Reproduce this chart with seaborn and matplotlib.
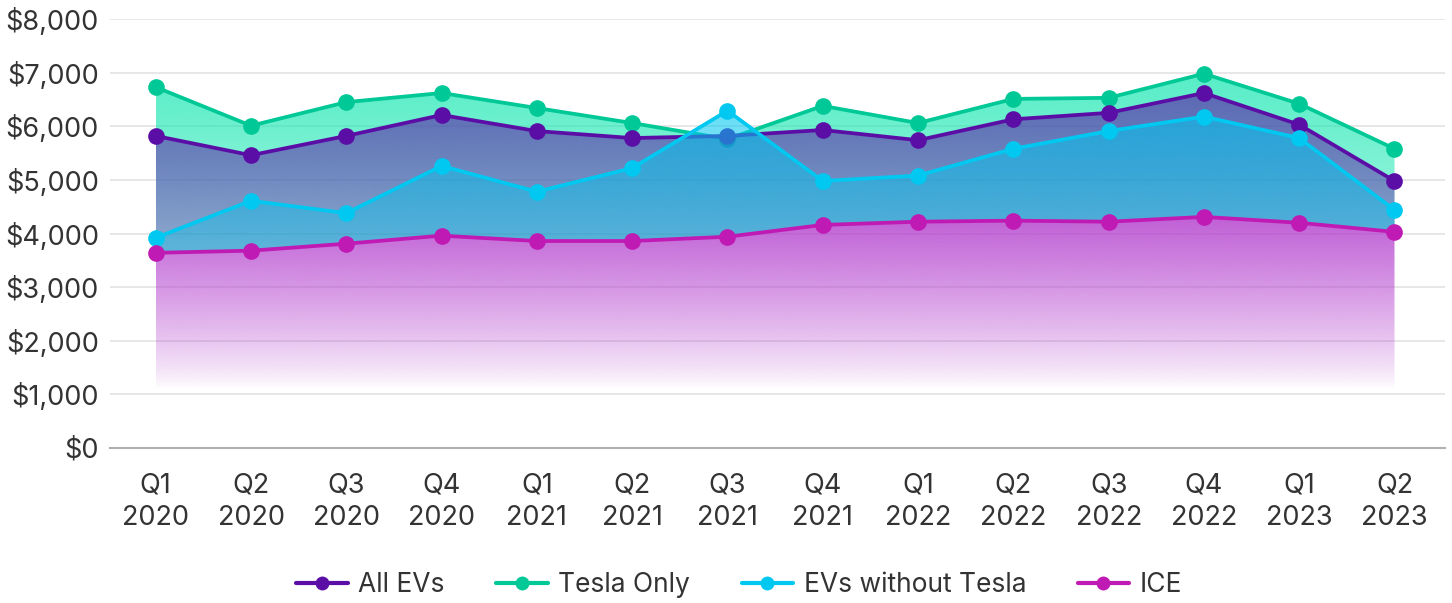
import numpy as np
import pandas as pd
import matplotlib
matplotlib.use("Agg")
import matplotlib.pyplot as plt
import matplotlib.colors as mcolors
from matplotlib.patches import PathPatch
from matplotlib.ticker import FuncFormatter
import seaborn as sns

quarters = ["Q1\n2020", "Q2\n2020", "Q3\n2020", "Q4\n2020",
            "Q1\n2021", "Q2\n2021", "Q3\n2021", "Q4\n2021",
            "Q1\n2022", "Q2\n2022", "Q3\n2022", "Q4\n2022",
            "Q1\n2023", "Q2\n2023"]
all_evs = [5820, 5460, 5820, 6210, 5910, 5780, 5820, 5930, 5740, 6130, 6250, 6620, 6030, 4980]
tesla_only = [6730, 6010, 6450, 6620, 6340, 6060, 5760, 6380, 6060, 6510, 6530, 6980, 6420, 5580]
evs_no_tesla = [3920, 4610, 4380, 5260, 4780, 5220, 6290, 4980, 5080, 5580, 5910, 6180, 5780, 4440]
ice = [3640, 3680, 3810, 3960, 3860, 3860, 3940, 4160, 4220, 4240, 4220, 4310, 4200, 4030]

series_names = ["All EVs", "Tesla Only", "EVs without Tesla", "ICE"]
colors = {"All EVs": "#5b0ea6", "Tesla Only": "#00c896",
          "EVs without Tesla": "#00c8f0", "ICE": "#c01ab4"}
fill_colors = {"All EVs": "#5b0ea6", "Tesla Only": "#1ee8b4",
               "EVs without Tesla": "#00c8f0", "ICE": "#b23ccd"}
# drawing order (back to front) and top alpha of the gradient fill
draw_order = [("Tesla Only", tesla_only, 0.75),
              ("All EVs", all_evs, 0.6),
              ("EVs without Tesla", evs_no_tesla, 0.6),
              ("ICE", ice, 0.82)]

sns.set_theme(style="white")
plt.rcParams["font.family"] = ["Inter", "DejaVu Sans"]

fig = plt.figure(figsize=(14.52, 6.03), dpi=100)
ax = fig.add_axes([110 / 1452, 1 - 448 / 603, (1445 - 110) / 1452, (448 - 19) / 603])

x = np.arange(len(quarters))
fill_bottom = 1100


def gradient_fill(ax, xs, ys, base, color, alpha_top, zorder):
    ys = np.asarray(ys, dtype=float)
    poly = ax.fill_between(xs, ys, base, facecolor="none", edgecolor="none")
    path = poly.get_paths()[0]
    poly.remove()
    patch = PathPatch(path, transform=ax.transData, facecolor="none", edgecolor="none")
    ax.add_patch(patch)
    t = np.linspace(1, 0, 256)
    img = np.zeros((256, 1, 4))
    img[:, :, :3] = mcolors.to_rgb(color)
    img[:, 0, 3] = alpha_top * t ** 0.8
    im = ax.imshow(img, aspect="auto", origin="upper", interpolation="bilinear",
                   extent=[xs.min(), xs.max(), fill_bottom, ys.max()], zorder=zorder)
    im.set_clip_path(patch)


z = 2
for name, vals, a in draw_order:
    # the ICE area hides everything under it, so upper areas stop at the ICE line
    base = fill_bottom if name == "ICE" else ice
    gradient_fill(ax, x, vals, base, fill_colors[name], a, z)
    df = pd.DataFrame({"x": x, "value": vals})
    sns.lineplot(data=df, x="x", y="value", ax=ax, color=colors[name], lw=2.7,
                 marker="o", markersize=12, markeredgewidth=0, zorder=z + 1)
    z += 2

ax.set_xlim(-0.48, 13.53)
ax.set_ylim(0, 8000)
ax.set_yticks(np.arange(0, 8001, 1000))
ax.yaxis.set_major_formatter(FuncFormatter(lambda v, p: f"${v:,.0f}"))
ax.set_xticks(x)
ax.set_xticklabels(quarters, linespacing=1.3)
ax.set_xlabel("")
ax.set_ylabel("")
ax.grid(axis="y", color="#e3e3e3", lw=1.2, zorder=0)
ax.set_axisbelow(True)
for s in ["left", "right", "top"]:
    ax.spines[s].set_visible(False)
ax.spines["bottom"].set_color("#b0b0b0")
ax.spines["bottom"].set_linewidth(1.5)
ax.tick_params(axis="both", length=0, labelsize=19.5, colors="#333333")
ax.tick_params(axis="x", pad=18)
ax.tick_params(axis="y", pad=8)

handles = [plt.Line2D([0], [0], color=colors[n], lw=3, marker="o", markersize=10,
                      markeredgewidth=0) for n in series_names]
fig.legend(handles, series_names, loc="center", bbox_to_anchor=(0.509, 1 - 585 / 603),
           ncol=4, frameon=False, fontsize=19, handlelength=1.95, columnspacing=1.95,
           handletextpad=0.4, labelcolor="#333333")

fig.savefig("out.png", dpi=100)
